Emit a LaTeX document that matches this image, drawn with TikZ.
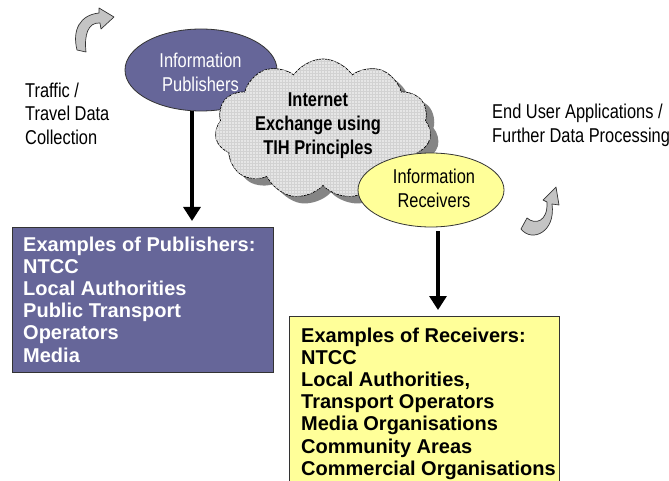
\documentclass[tikz,border=0pt]{standalone}
\usepackage{fontspec}
\setmainfont{Liberation Sans}
\newfontfamily\narrow[FakeStretch=0.82]{Liberation Sans}
\usetikzlibrary{shapes.symbols,shapes.geometric,arrows.meta,shadows,patterns}
\definecolor{pubfill}{HTML}{666699}
\definecolor{recfill}{HTML}{FFFF99}
\definecolor{edge}{HTML}{333333}
\definecolor{cloudfill}{HTML}{E6E6E6}
\definecolor{gridcol}{HTML}{D2D2D2}
\definecolor{shadowcol}{HTML}{858585}
\definecolor{arrowgray}{HTML}{C4C4C4}
\begin{document}
\begin{tikzpicture}[x=1pt,y=-1pt,
  ellshape/.style={ellipse, draw=edge, line width=0.8pt, inner sep=0pt},
  elltext/.style={anchor=north, inner sep=0pt, align=center, font=\narrow\fontsize{20}{24}\selectfont},
  boxshape/.style={rectangle, draw=edge, line width=0.9pt, anchor=north west, inner sep=0pt},
  boxtext/.style={anchor=north west, inner sep=0pt, align=left, font=\bfseries\fontsize{20}{22.2}\selectfont},
  sidetext/.style={anchor=north west, inner sep=0pt, align=left, font=\narrow\fontsize{20}{23.5}\selectfont},
  arr/.style={line width=3.2pt, -{Triangle[width=17pt,length=14pt]}},
  turnarrow/.style={draw=edge, fill=arrowgray, line width=0.7pt, line join=round}
]
\useasboundingbox (0,0) rectangle (669,481);
\clip (0,0) rectangle (669,481);
\fill[white] (0,0) rectangle (669,481);

% curved arrows
\path[turnarrow] (77,50) .. controls (72,30) and (80,15) .. (99,13)
  -- (99,8) -- (114,17) -- (101,29) -- (100,23)
  .. controls (88,22) and (84,35) .. (86,52) -- cycle;
\path[turnarrow] (521,229) .. controls (532,243) and (556,232) .. (552,204)
  -- (559,205) -- (556,187) -- (543,200) -- (547,202)
  .. controls (548,222) and (535,225) .. (527,218) -- cycle;

% side labels
\node[sidetext] (lefttext) at (25,82.5) {Traffic /\\Travel Data\\Collection};
\node[sidetext, font=\narrow\fontsize{20}{24}\selectfont] (righttext) at (492,103.4) {End User Applications /\\Further Data Processing};

% publishers ellipse
\node[ellshape, fill=pubfill, minimum width=152pt, minimum height=82pt] (pub) at (201,70) {};
\node[elltext, text=white] (pubtext) at (200.5,52.4) {Information\\Publishers};

% cloud
\node[cloud, cloud puffs=11, cloud puff arc=115, cloud ignores aspect, draw=black, line width=0.7pt,
  minimum width=216pt, minimum height=140pt, fill=cloudfill,
  drop shadow={shadow xshift=8pt, shadow yshift=-7pt, fill=shadowcol, opacity=1},
  postaction={pattern=grid, pattern color=gridcol}] (cloud) at (323,129) {};
\node[elltext, font=\narrow\bfseries\fontsize{20}{24}\selectfont] (cloudtext) at (318,92.7) {Internet\\Exchange using\\TIH Principles};

% receivers ellipse
\node[ellshape, fill=recfill, minimum width=146pt, minimum height=74pt] (rec) at (431,190) {};
\node[elltext] (rectext) at (434,168.4) {Information\\Receivers};

% boxes
\node[boxshape, fill=pubfill, minimum width=261pt, minimum height=145pt] (pubbox) at (12,227) {};
\node[boxtext, text=white] (pubboxtext) at (23,236.4) {Examples of Publishers:\\NTCC\\Local Authorities\\Public Transport\\Operators\\Media};
\node[boxshape, fill=recfill, minimum width=270pt, minimum height=200pt] (recbox) at (289,316) {};
\node[boxtext] (recboxtext) at (301,327.4) {Examples of Receivers:\\NTCC\\Local Authorities,\\Transport Operators\\Media Organisations\\Community Areas\\Commercial Organisations};

% arrows
\draw[arr, shorten >=6pt] ([xshift=-9pt]pub.south) -- ([xshift=-9pt]pub.south |- pubbox.north);
\draw[arr, shorten >=6pt] ([xshift=7pt,yshift=-4pt]rec.south) -- ([xshift=7pt]rec.south |- recbox.north);
\end{tikzpicture}
\end{document}
